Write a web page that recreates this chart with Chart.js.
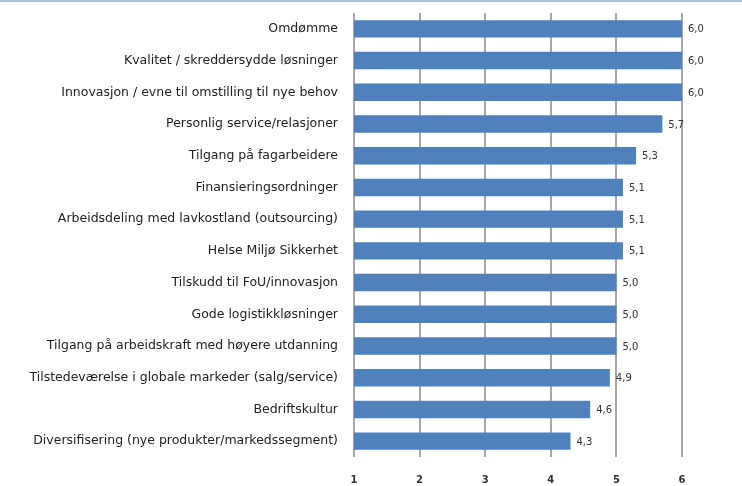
<!DOCTYPE html>
<html lang="no">
<head>
<meta charset="UTF-8">
<title>Faktorer</title>
<script src="https://cdn.jsdelivr.net/npm/chart.js"></script>
<style>
    html, body { margin: 0; padding: 0; background: #fff; }
    #wrap { width: 742px; height: 486px; }
</style>
</head>
<body>
<div id="wrap"><canvas id="myBarGraph" width="742" height="486"></canvas></div>
<script>
var categories = [
    'Omdømme',
    'Kvalitet / skreddersydde løsninger',
    'Innovasjon / evne til omstilling til nye behov',
    'Personlig service/relasjoner',
    'Tilgang på fagarbeidere',
    'Finansieringsordninger',
    'Arbeidsdeling med lavkostland (outsourcing)',
    'Helse Miljø Sikkerhet',
    'Tilskudd til FoU/innovasjon',
    'Gode logistikkløsninger',
    'Tilgang på arbeidskraft med høyere utdanning',
    'Tilstedeværelse i globale markeder (salg/service)',
    'Bedriftskultur',
    'Diversifisering (nye produkter/markedssegment)'
];
var scores = [6.0, 6.0, 6.0, 5.7, 5.3, 5.1, 5.1, 5.1, 5.0, 5.0, 5.0, 4.9, 4.6, 4.3];
var tickValues = [1, 2, 3, 4, 5, 6];

// thin bluish line along the top edge of the picture
var topLine = {
    id: 'topLine',
    beforeDraw: function (chart) {
        var c = chart.ctx;
        c.save();
        c.strokeStyle = '#a9c0d8';
        c.lineWidth = 2;
        c.beginPath();
        c.moveTo(0, 1);
        c.lineTo(chart.width, 1);
        c.stroke();
        c.restore();
    }
};

// value labels right of each bar, with comma decimals
var valueLabels = {
    id: 'valueLabels',
    afterDatasetsDraw: function (chart) {
        var c = chart.ctx;
        var meta = chart.getDatasetMeta(0);
        c.save();
        c.font = '10px "DejaVu Sans"';
        c.fillStyle = '#333';
        c.textAlign = 'left';
        c.textBaseline = 'middle';
        meta.data.forEach(function (bar, i) {
            var txt = scores[i].toFixed(1).replace('.', ',');
            c.fillText(txt, bar.x + 6, bar.y + 1);
        });
        c.restore();
    }
};

var ctx = document.getElementById('myBarGraph').getContext('2d');
var myBarGraph = new Chart(ctx, {
    type: 'bar',
    data: {
        labels: categories,
        datasets: [{
            data: scores,
            backgroundColor: '#4f81bd',
            borderWidth: 0,
            barPercentage: 0.55,
            categoryPercentage: 1.0
        }]
    },
    options: {
        indexAxis: 'y',
        responsive: false,
        animation: false,
        layout: { padding: { top: 13, right: 60, left: 0, bottom: 0 } },
        plugins: {
            legend: { display: false },
            tooltip: { enabled: false }
        },
        scales: {
            x: {
                min: 1,
                max: 6,
                afterBuildTicks: function (axis) {
                    axis.ticks = tickValues.map(function (v) { return { value: v }; });
                },
                afterFit: function (axis) {
                    axis.height = 29;
                    axis.paddingLeft = 0;
                    axis.paddingRight = 0;
                },
                grid: { color: '#a8a8a8', lineWidth: 2, drawTicks: false },
                border: { display: false },
                ticks: {
                    padding: 17,
                    color: '#333',
                    font: { family: 'DejaVu Sans', size: 10, weight: 'bold' }
                }
            },
            y: {
                afterFit: function (axis) {
                    axis.width = 354;
                    axis.paddingTop = 0;
                    axis.paddingBottom = 0;
                },
                grid: { display: false, drawTicks: false },
                border: { display: false },
                ticks: {
                    padding: 16,
                    color: '#222',
                    autoSkip: false,
                    font: { family: 'DejaVu Sans', size: 12.5 }
                }
            }
        }
    },
    plugins: [topLine, valueLabels]
});
</script>
</body>
</html>
